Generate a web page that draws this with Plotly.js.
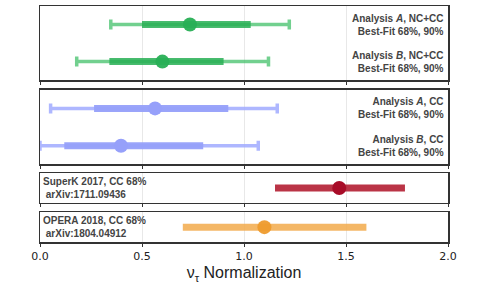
<!DOCTYPE html>
<html><head><meta charset="utf-8">
<script src="https://cdn.plot.ly/plotly-3.0.1.min.js"></script>
<style>body{margin:0;padding:0;background:#fff}#plot{width:498px;height:299px}</style>
</head><body><div id="plot"></div>
<script>
// Analysis results (panel 1: NC+CC, panel 2: CC)
const analyses = ["Analysis A, NC+CC", "Analysis B, NC+CC", "Analysis A, CC", "Analysis B, CC"];
const bestFit = [0.735, 0.600, 0.564, 0.397];
const lo68 = [0.500, 0.340, 0.265, 0.119];
const hi68 = [1.033, 0.900, 0.923, 0.800];
const lo90 = [0.347, 0.180, 0.052, 0.000];
const hi90 = [1.222, 1.120, 1.163, 1.070];
// External measurements
const experiments = ["SuperK 2017, CC 68%", "OPERA 2018, CC 68%"];
const arxiv = ["arXiv:1711.09436", "arXiv:1804.04912"];
const expCenter = [1.467, 1.100];
const expLo = [1.152, 0.700];
const expHi = [1.789, 1.600];
const xTicks = [0.0, 0.5, 1.0, 1.5, 2.0];
const xTickText = ["0.0", "0.5", "1.0", "1.5", "2.0"];

const green = {thin: "rgba(60,190,100,0.72)", thick: "rgba(40,175,85,0.85)", dot: "rgba(40,175,85,0.95)"};
const blue = {thin: "rgba(160,170,255,0.85)", thick: "rgba(150,160,250,0.95)", dot: "rgba(150,160,250,1)"};
const colors = [green, green, blue, blue];
const panelOf = [1, 1, 2, 2];
const yPos = [1, 0, 1, 0];

const traces = [];
for (let i = 0; i < analyses.length; i++) {
  const c = colors[i];
  const ax = panelOf[i] === 1 ? "" : String(panelOf[i]);
  traces.push({x: [bestFit[i]], y: [yPos[i]], xaxis: "x" + ax, yaxis: "y" + ax, type: "scatter", mode: "markers",
    marker: {size: 1, color: "rgba(0,0,0,0)"}, hoverinfo: "skip", showlegend: false, cliponaxis: false,
    error_x: {type: "data", symmetric: false, array: [hi90[i] - bestFit[i]], arrayminus: [bestFit[i] - lo90[i]],
      color: c.thin, thickness: 3.5, width: 5}});
  traces.push({x: [lo68[i], hi68[i]], y: [yPos[i], yPos[i]], xaxis: "x" + ax, yaxis: "y" + ax, type: "scatter", mode: "lines",
    line: {color: c.thick, width: 7}, hoverinfo: "skip", showlegend: false});
  traces.push({x: [bestFit[i]], y: [yPos[i]], xaxis: "x" + ax, yaxis: "y" + ax, type: "scatter", mode: "markers",
    marker: {size: 14, color: c.dot}, showlegend: false});
}
const expColors = [{bar: "rgba(178,30,50,0.9)", dot: "rgba(168,12,40,1)"}, {bar: "rgba(242,170,75,0.85)", dot: "rgba(238,155,45,0.95)"}];
for (let j = 0; j < experiments.length; j++) {
  const ax = String(j + 3);
  traces.push({x: [expLo[j], expHi[j]], y: [0, 0], xaxis: "x" + ax, yaxis: "y" + ax, type: "scatter", mode: "lines",
    line: {color: expColors[j].bar, width: 7}, hoverinfo: "skip", showlegend: false});
  traces.push({x: [expCenter[j]], y: [0], xaxis: "x" + ax, yaxis: "y" + ax, type: "scatter", mode: "markers",
    marker: {size: 14, color: expColors[j].dot}, showlegend: false});
}

const domains = [[0.686, 1.0], [0.329, 0.645], [0.1665, 0.291], [0.0, 0.126]];
const yRanges = [[-0.5, 1.5], [-0.5, 1.5], [-1, 1], [-1, 1]];
const layout = {
  width: 498, height: 299,
  margin: {l: 40, r: 50, t: 6, b: 57},
  paper_bgcolor: "#fff", plot_bgcolor: "#fff",
  font: {family: "Liberation Sans, Arial, sans-serif", color: "#222"},
  showlegend: false,
  annotations: []
};
for (let k = 0; k < 4; k++) {
  const s = k === 0 ? "" : String(k + 1);
  layout["xaxis" + s] = {
    anchor: "y" + s, domain: [0, 1], range: [0, 2], tickvals: xTicks, ticktext: xTickText,
    showticklabels: k === 3, ticks: "outside", ticklen: 3, tickcolor: "#333", tickwidth: 1,
    showgrid: true, gridcolor: "#e8e8e8", gridwidth: 1, zeroline: false,
    showline: true, linecolor: "#333", linewidth: 1.5, mirror: true,
    tickfont: {family: "DejaVu Sans, sans-serif", size: 11, color: "#222"}
  };
  layout["yaxis" + s] = {
    anchor: "x" + s, domain: domains[k], range: yRanges[k], showticklabels: false, ticks: "",
    showgrid: false, zeroline: false, showline: true, linecolor: "#333", linewidth: 1.5, mirror: true, fixedrange: true
  };
}
layout.xaxis4.title = {text: "ν<sub>τ</sub> Normalization", font: {size: 16, color: "#222"}, standoff: 5};

const label = (name) => name.replace("Analysis A", "Analysis <i>A</i>").replace("Analysis B", "Analysis <i>B</i>");
for (let i = 0; i < analyses.length; i++) {
  const ax = panelOf[i] === 1 ? "" : String(panelOf[i]);
  layout.annotations.push({
    xref: "x" + ax + " domain", yref: "y" + ax, x: 0.996, y: yPos[i], xanchor: "right", yanchor: "middle",
    text: "<b>" + label(analyses[i]) + "</b><br><b>Best-Fit 68%, 90%</b>", align: "right", showarrow: false,
    font: {size: 10, color: "#444"}
  });
}
for (let j = 0; j < experiments.length; j++) {
  const ax = String(j + 3);
  layout.annotations.push({
    xref: "x" + ax + " domain", yref: "y" + ax + " domain", x: 0.003, y: 0.5, xanchor: "left", yanchor: "middle",
    text: "<b>" + experiments[j] + "</b><br><b> " + arxiv[j] + "</b>", align: "left", showarrow: false,
    font: {size: 10, color: "#444"}
  });
}
Plotly.newPlot("plot", traces, layout, {staticPlot: true});
</script></body></html>
